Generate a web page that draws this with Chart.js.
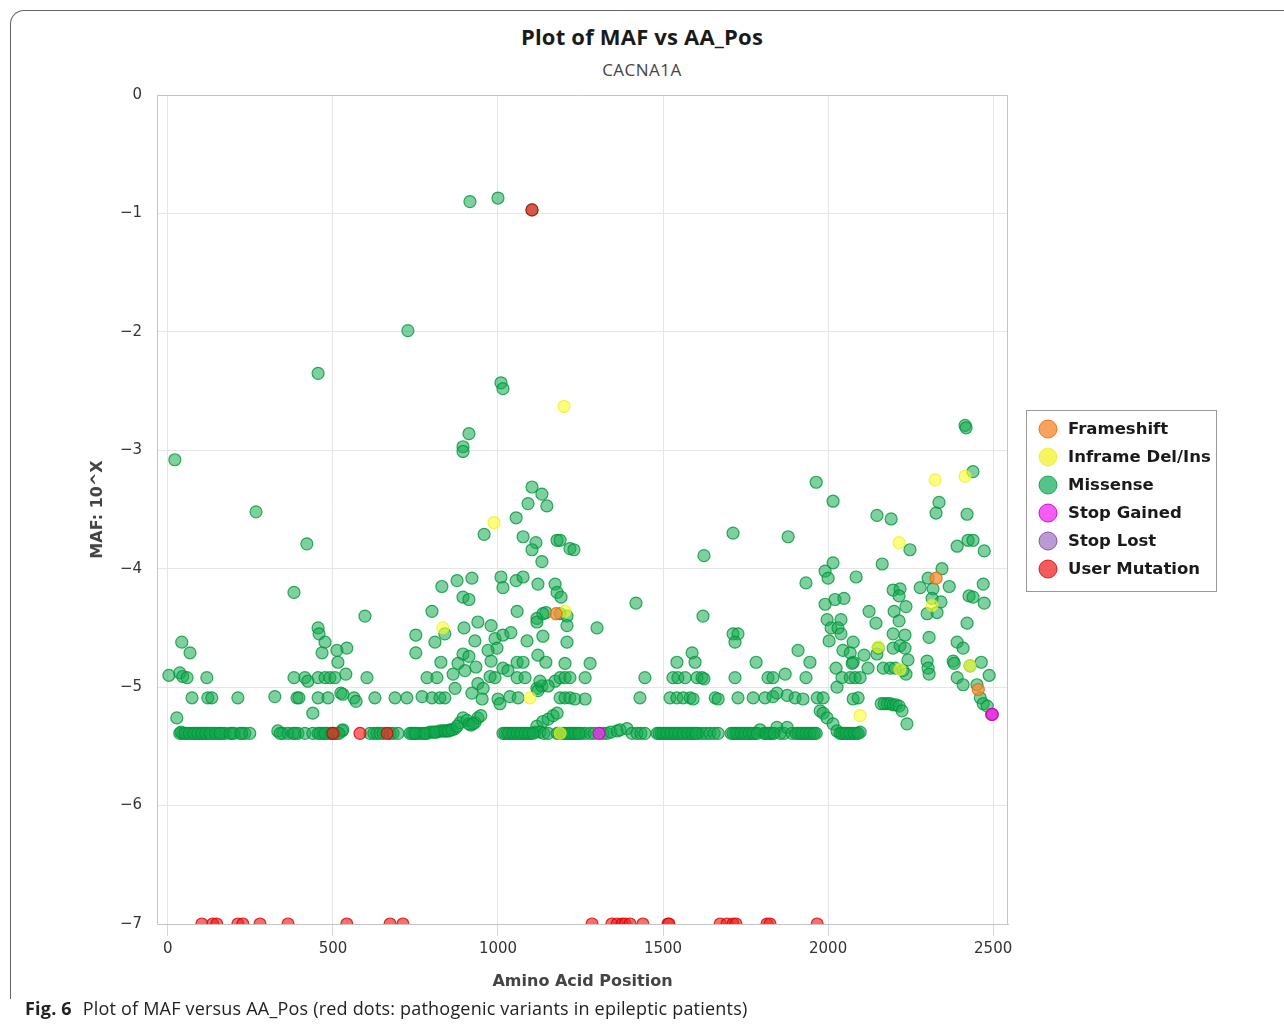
<!DOCTYPE html>
<html>
<head>
<meta charset="utf-8">
<script src="https://cdn.jsdelivr.net/npm/chart.js@4.4.0/dist/chart.umd.min.js"></script>
<style>
  body { margin: 0; background: #fff; }
  #wrap { position: relative; width: 1284px; height: 1027px; overflow: hidden; }
  #frame { position: absolute; left: 10px; top: 10px; width: 1320px; height: 988px;
           border: 1px solid #666; border-bottom: none; border-top-left-radius: 14px; }
  #title { position: absolute; top: 22px; left: 0; width: 1284px; text-align: center;
           font: bold 22px "Open Sans"; line-height: 28px; color: #1a1a1a; letter-spacing: 0.2px; }
  #subtitle { position: absolute; top: 59px; left: 0; width: 1284px; text-align: center;
              font: 17px "Open Sans"; line-height: 22px; color: #444; letter-spacing: 0.5px; }
  #caption { position: absolute; top: 996px; left: 25px; font: 18px "Open Sans";
             line-height: 24px; color: #222; white-space: nowrap; letter-spacing: 0.2px; }
  #caption b { margin-right: 6px; }
  canvas { position: absolute; left: 0; top: 0; }
</style>
</head>
<body>
<div id="wrap">
  <div id="frame"></div>
  <div id="title">Plot of MAF vs AA_Pos</div>
  <div id="subtitle">CACNA1A</div>
  <canvas id="chart" width="1284" height="1027"></canvas>
  <div id="caption"><b>Fig. 6</b> Plot of MAF versus AA_Pos (red dots: pathogenic variants in epileptic patients)</div>
</div>
<script>
// values: [amino acid position, log10 MAF]

const frameshift = [[1176, -4.38], [2327, -4.08], [2455, -5.02], [2495, -5.23]]

const inframe = [
  [1200, -2.63], [988, -3.61], [833, -4.50], [1203, -4.36], [1097, -5.09], [1188, -5.39],
  [2324, -3.25], [2415, -3.22], [2215, -3.78], [2152, -4.66], [2218, -4.85], [2430, -4.82],
  [2315, -4.31], [2097, -5.24]
]

const missense = [
  // isolated high values
  [1000, -0.87], [915, -0.90], [1103, -0.97], [727, -1.99], [455, -2.35], [1009, -2.43],
  [1015, -2.48], [912, -2.86], [894, -2.97], [894, -3.01], [21, -3.08], [267, -3.52],
  [421, -3.79], [382, -4.20], [2415, -2.79], [2418, -2.81],
  // cloud around 800-1250
  [1103, -3.31], [1133, -3.37], [1091, -3.45], [1148, -3.47], [1055, -3.57], [958, -3.71],
  [1076, -3.73], [1115, -3.78], [1103, -3.84], [1179, -3.76], [1218, -3.83], [1133, -3.94],
  [1009, -4.07], [1015, -4.16], [1055, -4.10], [1076, -4.07], [876, -4.10], [921, -4.08],
  [830, -4.15], [1121, -4.13], [1173, -4.13], [1179, -4.20], [1191, -4.24], [894, -4.24],
  [912, -4.26], [800, -4.36], [1058, -4.36], [1118, -4.42], [1118, -4.45], [1145, -4.37],
  [1136, -4.38], [1188, -4.38], [1209, -4.40], [1209, -4.48], [597, -4.40],
  [839, -4.55], [897, -4.50], [939, -4.45], [979, -4.48], [930, -4.61], [991, -4.59],
  [997, -4.67], [1015, -4.56], [1039, -4.54], [1088, -4.61], [1136, -4.57], [1209, -4.62],
  [751, -4.56], [809, -4.62], [751, -4.71], [894, -4.72], [912, -4.74], [970, -4.69],
  [1121, -4.73], [827, -4.79], [879, -4.80], [900, -4.86], [933, -4.83], [979, -4.78],
  [1058, -4.79], [1076, -4.79], [1145, -4.79], [1203, -4.80], [864, -4.89], [1015, -4.84],
  [1030, -4.86], [976, -4.91], [991, -4.92], [939, -4.97], [955, -5.01], [921, -5.05],
  [952, -5.10], [1000, -5.10], [1006, -5.14], [1036, -5.08], [1061, -5.09], [1118, -5.01],
  [1133, -4.99], [1173, -4.95], [1188, -4.92], [870, -5.01], [1121, -5.03], [1152, -4.99],
  // left side, 0-700
  [455, -4.50], [458, -4.55], [476, -4.62], [467, -4.71], [512, -4.69], [542, -4.67],
  [515, -4.79], [42, -4.62], [67, -4.71],
  [3, -4.90], [36, -4.88], [45, -4.91], [58, -4.92], [118, -4.92], [382, -4.92], [415, -4.92],
  [424, -4.95], [455, -4.92], [476, -4.92], [491, -4.92], [506, -4.92], [539, -4.89],
  [603, -4.92], [785, -4.92], [815, -4.92], [1058, -4.92], [1082, -4.92], [1127, -4.95],
  [73, -5.09], [121, -5.09], [133, -5.09], [212, -5.09], [324, -5.08], [391, -5.09],
  [397, -5.09], [455, -5.09], [485, -5.09], [524, -5.05], [530, -5.06], [564, -5.09],
  [570, -5.12], [627, -5.09], [688, -5.09], [724, -5.09], [770, -5.08], [800, -5.09],
  [824, -5.09], [839, -5.09], [27, -5.26], [439, -5.22],
  // middle, 1200-2000
  [1188, -3.76], [1230, -3.84], [1300, -4.50], [1418, -4.29], [1624, -3.89], [1712, -3.70],
  [1879, -3.73], [1964, -3.27], [1933, -4.12], [1621, -4.40], [1712, -4.55], [1727, -4.55],
  [1718, -4.62], [1588, -4.71], [1909, -4.69], [1542, -4.79], [1597, -4.79], [1782, -4.79],
  [1945, -4.79], [1279, -4.80],
  [1203, -4.92], [1218, -4.92], [1264, -4.92], [1445, -4.92], [1530, -4.92], [1545, -4.92],
  [1567, -4.92], [1603, -4.92], [1618, -4.92], [1624, -4.93], [1718, -4.92], [1818, -4.92],
  [1833, -4.92], [1870, -4.89], [1933, -4.92],
  [1188, -5.09], [1203, -5.09], [1218, -5.09], [1233, -5.10], [1264, -5.10], [1430, -5.09],
  [1521, -5.09], [1542, -5.09], [1561, -5.09], [1582, -5.09], [1591, -5.10], [1658, -5.09],
  [1667, -5.10], [1727, -5.09], [1773, -5.09], [1809, -5.09], [1833, -5.08], [1845, -5.05],
  [1876, -5.07], [1900, -5.09], [1924, -5.10], [1967, -5.09], [1985, -5.09],
  // right side, 2000-2500
  [2015, -3.43], [1991, -4.02], [2000, -4.08], [2015, -3.95], [2085, -4.07], [1991, -4.30],
  [2021, -4.26], [2048, -4.25], [1997, -4.43], [2039, -4.43], [2009, -4.50], [2030, -4.50],
  [2039, -4.55], [2003, -4.61], [2076, -4.62], [2045, -4.69], [2067, -4.71], [2109, -4.73],
  [2076, -4.79], [2124, -4.36], [2145, -4.46], [2024, -4.84], [2042, -4.92], [2067, -4.92],
  [2082, -4.92], [2097, -4.92], [2027, -5.00], [2076, -5.10], [2091, -5.09], [2073, -4.80],
  [1976, -5.20], [1985, -5.22], [1997, -5.26], [2015, -5.31], [2027, -5.37],
  [2121, -4.84], [2152, -4.67], [2148, -4.72], [2167, -4.84], [2188, -4.84], [2203, -4.84],
  [2161, -5.14], [2170, -5.14], [2179, -5.14], [2188, -5.14], [2197, -5.15], [2206, -5.15],
  [2215, -5.16], [2224, -5.20], [2239, -5.31],
  [2197, -4.67], [2218, -4.65], [2233, -4.67], [2242, -4.77], [2197, -4.55], [2233, -4.56],
  [2200, -4.36], [2236, -4.32], [2215, -4.44], [2197, -4.18], [2218, -4.17], [2215, -4.23],
  [2227, -4.86], [2236, -4.89], [2148, -3.55], [2191, -3.58], [2248, -3.84], [2164, -3.96],
  [2279, -4.16], [2303, -4.08], [2318, -4.17], [2345, -4.00], [2367, -4.15], [2315, -4.25],
  [2342, -4.28], [2300, -4.38], [2330, -4.37], [2306, -4.58], [2300, -4.78], [2303, -4.84],
  [2306, -4.89], [2439, -3.18], [2336, -3.44], [2327, -3.53], [2421, -3.54], [2391, -3.81],
  [2424, -3.76], [2439, -3.76], [2473, -3.85], [2470, -4.13], [2427, -4.23], [2439, -4.24],
  [2473, -4.29], [2421, -4.46], [2391, -4.62], [2409, -4.67], [2379, -4.78], [2382, -4.80],
  [2430, -4.82], [2464, -4.79], [2391, -4.92], [2409, -4.98], [2451, -4.98], [2461, -5.09],
  [2470, -5.14], [2482, -5.16], [2488, -4.90],
  // the dense band at 10^-5.39 and its raised stretches
  [36, -5.39], [45, -5.39], [58, -5.39], [73, -5.39], [85, -5.39], [97, -5.39], [109, -5.39],
  [121, -5.39], [136, -5.39], [152, -5.39], [164, -5.39], [173, -5.39], [194, -5.39],
  [218, -5.39], [233, -5.39], [248, -5.39], [333, -5.37], [348, -5.39], [364, -5.39],
  [379, -5.39], [394, -5.39], [415, -5.39], [439, -5.39], [455, -5.39], [470, -5.39],
  [482, -5.39], [491, -5.39], [503, -5.39], [512, -5.39], [527, -5.37], [530, -5.36],
  [612, -5.39], [624, -5.39], [633, -5.39], [642, -5.39], [652, -5.39], [673, -5.39],
  [682, -5.39], [697, -5.39], [733, -5.39], [745, -5.39], [755, -5.39], [764, -5.39],
  [773, -5.39], [785, -5.39], [794, -5.38], [803, -5.38], [815, -5.38], [824, -5.37],
  [833, -5.37], [845, -5.37], [855, -5.36], [870, -5.35], [885, -5.30], [894, -5.26],
  [906, -5.28], [918, -5.32], [930, -5.30], [939, -5.26], [948, -5.24],
  [1015, -5.39], [1027, -5.39], [1039, -5.39], [1052, -5.39], [1064, -5.39], [1076, -5.39],
  [1088, -5.39], [1100, -5.39], [1112, -5.38], [1118, -5.33], [1136, -5.29], [1152, -5.27],
  [1167, -5.24], [1179, -5.22], [1127, -5.38], [1139, -5.39], [1152, -5.39],
  [1179, -5.39], [1191, -5.39], [1203, -5.39], [1215, -5.39], [1227, -5.39], [1239, -5.39],
  [1252, -5.39], [1264, -5.39], [1279, -5.39], [1291, -5.39], [1318, -5.39], [1330, -5.39],
  [1342, -5.38], [1361, -5.37], [1370, -5.36], [1391, -5.35], [1406, -5.39], [1421, -5.39],
  [1433, -5.39], [1445, -5.39], [1482, -5.39], [1494, -5.39], [1506, -5.39], [1518, -5.39],
  [1530, -5.39], [1542, -5.39], [1555, -5.39], [1567, -5.39], [1582, -5.39], [1594, -5.39],
  [1606, -5.39], [1618, -5.39], [1630, -5.39], [1642, -5.39], [1655, -5.39], [1667, -5.39],
  [1706, -5.39], [1718, -5.39], [1730, -5.39], [1742, -5.39], [1755, -5.39], [1767, -5.39],
  [1779, -5.39], [1794, -5.36], [1806, -5.39], [1818, -5.39], [1830, -5.39], [1845, -5.34],
  [1855, -5.39], [1867, -5.39], [1876, -5.34], [1891, -5.39], [1903, -5.39], [1915, -5.39],
  [1927, -5.39], [1939, -5.39], [1952, -5.39], [1964, -5.39],
  [2036, -5.39], [2048, -5.39], [2060, -5.39], [2072, -5.39], [2085, -5.39], [2097, -5.38],
  // more variants packed into the same band
  [40, -5.38], [52, -5.39], [65, -5.39], [79, -5.39], [91, -5.39], [103, -5.39], [115, -5.39],
  [128, -5.39], [144, -5.39], [158, -5.39], [188, -5.39], [200, -5.39], [224, -5.39],
  [340, -5.39], [385, -5.39], [461, -5.39], [476, -5.39], [497, -5.39], [518, -5.39],
  [739, -5.39], [750, -5.39], [779, -5.39], [809, -5.38], [839, -5.37], [850, -5.37],
  [861, -5.36], [876, -5.33], [912, -5.31], [924, -5.31], [1021, -5.39], [1033, -5.39],
  [1046, -5.39], [1058, -5.39], [1070, -5.39], [1082, -5.39], [1094, -5.39], [1106, -5.39],
  [1185, -5.39], [1197, -5.39], [1209, -5.39], [1221, -5.39], [1233, -5.39], [1245, -5.39],
  [1488, -5.39], [1500, -5.39], [1512, -5.39], [1524, -5.39], [1536, -5.39], [1548, -5.39],
  [1561, -5.39], [1575, -5.39], [1588, -5.39], [1600, -5.39], [1712, -5.39], [1724, -5.39],
  [1736, -5.39], [1748, -5.39], [1761, -5.39], [1773, -5.39], [1785, -5.39], [1812, -5.39],
  [1824, -5.39], [1836, -5.39], [1909, -5.39], [1921, -5.39], [1933, -5.39], [1945, -5.39],
  [1958, -5.39], [2042, -5.39], [2054, -5.39], [2066, -5.39], [2079, -5.39], [2091, -5.39]
]

const stopGained = [[1306, -5.39], [2497, -5.23]]

const stopLost = [[2497, -5.23]]

const userMutation = [
  [1103, -0.97], [500, -5.39], [582, -5.39], [664, -5.39],
  [103, -7], [136, -7], [148, -7], [212, -7], [227, -7], [279, -7], [364, -7], [542, -7],
  [673, -7], [712, -7], [1285, -7], [1345, -7], [1361, -7], [1376, -7], [1385, -7],
  [1400, -7], [1439, -7], [1515, -7], [1518, -7], [1673, -7], [1694, -7], [1712, -7],
  [1721, -7], [1815, -7], [1824, -7], [1967, -7]
]

const xTicks = [0, 500, 1000, 1500, 2000, 2500]
const yTicks = [-7, -6, -5, -4, -3, -2, -1, 0]

function pts(list) {
  return list.map(p => ({ x: p[0], y: p[1] }))
}

function series(label, list, fill, border, legendColor, order) {
  return {
    label: label,
    data: pts(list),
    backgroundColor: fill,
    borderColor: border,
    legendColor: legendColor,
    borderWidth: 1.2,
    pointRadius: 6,
    order: order
  }
}

// gray frame on top and right of the plot area
const plotBorder = {
  id: 'plotBorder',
  beforeDatasetsDraw(chart) {
    const a = chart.chartArea
    const ctx = chart.ctx
    ctx.save()
    ctx.strokeStyle = '#c4c4c4'
    ctx.lineWidth = 1
    ctx.beginPath()
    ctx.moveTo(a.left, a.top + 0.5)
    ctx.lineTo(a.right - 0.5, a.top + 0.5)
    ctx.lineTo(a.right - 0.5, a.bottom)
    ctx.stroke()
    ctx.restore()
  }
}

// boxed legend to the right of the plot
const boxLegend = {
  id: 'boxLegend',
  afterDraw(chart) {
    const ctx = chart.ctx
    ctx.save()
    ctx.strokeStyle = '#9a9a9a'
    ctx.lineWidth = 1
    ctx.strokeRect(1026.5, 410.5, 190, 181)
    ctx.font = 'bold 16.5px "DejaVu Sans"'
    ctx.textBaseline = 'middle'
    chart.data.datasets.forEach((ds, i) => {
      const cy = 429 + i * 28
      ctx.beginPath()
      ctx.arc(1048, cy, 9, 0, Math.PI * 2)
      ctx.fillStyle = ds.legendColor
      ctx.fill()
      ctx.strokeStyle = ds.borderColor
      ctx.stroke()
      ctx.fillStyle = '#1a1a1a'
      ctx.fillText(ds.label, 1068, cy + 1)
    })
    ctx.restore()
  }
}

new Chart(document.getElementById('chart'), {
  type: 'scatter',
  data: {
    datasets: [
      series('Frameshift', frameshift, 'rgba(250,140,50,0.75)', 'rgba(230,110,20,0.9)', '#f7a35c', 3),
      series('Inframe Del/Ins', inframe, 'rgba(255,255,40,0.6)', 'rgba(235,235,30,0.7)', '#f5f560', 4),
      series('Missense', missense, 'rgba(20,170,80,0.55)', 'rgba(0,150,60,0.8)', '#55c487', 5),
      series('Stop Gained', stopGained, 'rgba(240,40,240,0.75)', 'rgba(200,0,200,0.9)', '#f45cf4', 1),
      series('Stop Lost', stopLost, 'rgba(150,90,200,0.6)', 'rgba(120,60,170,0.8)', '#b99ad2', 2),
      series('User Mutation', userMutation, 'rgba(255,30,30,0.65)', 'rgba(210,0,0,0.8)', '#f45b5b', 0)
    ]
  },
  options: {
    responsive: false,
    devicePixelRatio: 1,
    animation: false,
    layout: { padding: { left: 0, right: 276, top: 95, bottom: 30 } },
    plugins: {
      legend: { display: false },
      tooltip: { enabled: false }
    },
    scales: {
      x: {
        type: 'linear',
        min: -33,
        max: 2545,
        afterBuildTicks: s => { s.ticks = xTicks.map(v => ({ value: v })) },
        afterFit: s => { s.height = 73 },
        ticks: {
          includeBounds: false,
          padding: 4,
          color: '#333',
          font: { family: 'DejaVu Sans', size: 15 },
          callback: v => String(v)
        },
        grid: { color: '#e6e6e6', tickLength: 12, tickColor: '#ccd6eb' },
        border: { color: '#c4c4c4' },
        title: {
          display: true,
          text: 'Amino Acid Position',
          color: '#444',
          font: { family: 'DejaVu Sans', size: 16, weight: 'bold' },
          padding: { top: 0, bottom: 6 }
        }
      },
      y: {
        min: -7,
        max: 0,
        afterBuildTicks: s => { s.ticks = yTicks.map(v => ({ value: v })) },
        afterFit: s => { s.width = 157 },
        ticks: {
          padding: 15,
          color: '#333',
          font: { family: 'DejaVu Sans', size: 15 },
          callback: v => v < 0 ? '\u2212' + Math.abs(v) : String(v)
        },
        grid: { color: '#e6e6e6', drawTicks: false },
        border: { color: '#c4c4c4' },
        title: {
          display: true,
          text: 'MAF: 10^X',
          color: '#444',
          font: { family: 'DejaVu Sans', size: 16, weight: 'bold' },
          padding: { top: 88, bottom: 0 }
        }
      }
    }
  },
  plugins: [plotBorder, boxLegend]
})
</script>
</body>
</html>
